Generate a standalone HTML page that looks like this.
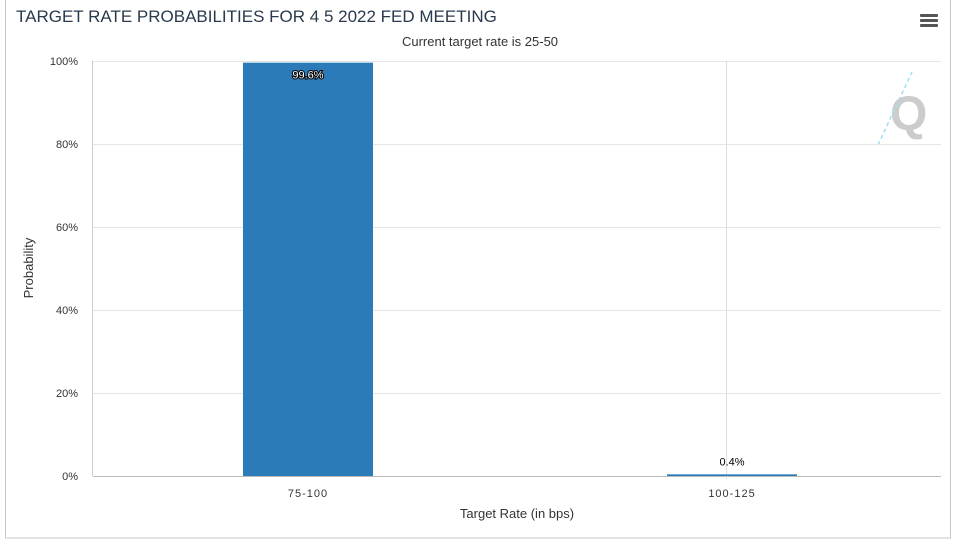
<!DOCTYPE html>
<html><head><meta charset="utf-8"><style>
body{margin:0;background:#fff;width:960px;height:541px;overflow:hidden;font-family:"Liberation Sans",sans-serif}
</style></head><body>
<svg width="960" height="541" style="position:absolute;left:0;top:0">
<rect x="5.5" y="-1" width="945" height="539" fill="#fff" stroke="#c8c8c8"/>
<text x="16" y="22" font-size="17" fill="#2a3a4d">TARGET RATE PROBABILITIES FOR 4 5 2022 FED MEETING</text>
<text x="480" y="46" font-size="13" fill="#333" text-anchor="middle">Current target rate is 25-50</text>
<g fill="#555"><rect x="920" y="14" width="18" height="3" rx="1"/><rect x="920" y="19" width="18" height="3" rx="1"/><rect x="920" y="24" width="18" height="3" rx="1"/></g>
<g><text x="890" y="130" font-size="48" font-weight="bold" fill="#ccc">Q</text>
<line x1="878" y1="145" x2="912" y2="72" stroke="#9fe0f0" stroke-width="1.5" stroke-dasharray="4 3"/></g>
<g id="grid"></g><g id="marks"></g>
<text x="33" y="268" font-size="13" fill="#333" text-anchor="middle" transform="rotate(-90 33 268)">Probability</text>
<text x="517" y="518" font-size="13" fill="#333" text-anchor="middle">Target Rate (in bps)</text>
</svg>
<script>
const categories=["75-100","100-125"];
const values=[99.6,0.4];
const yTicks=[0,20,40,60,80,100];
const L=93,R=941,T=61,B=476,NS="http://www.w3.org/2000/svg";
const y=v=>B-(v/100)*(B-T);
const bw=(R-L)/categories.length;
const xc=i=>L+bw*(i+0.5);
const grid=document.getElementById('grid'),marks=document.getElementById('marks');
function mk(tag,attrs,parent,text){const e=document.createElementNS(NS,tag);for(const k in attrs)e.setAttribute(k,attrs[k]);if(text!==undefined)e.textContent=text;parent.appendChild(e);return e;}
yTicks.forEach(t=>{
 const l=mk('line',{x1:L,x2:R,y1:y(t)+0.5,y2:y(t)+0.5,stroke:t===0?'#bbb':'#e6e6e6'},grid);
 
 
 const tx=mk('text',{x:78,y:y(t)+4,'font-size':11,fill:'#333','text-anchor':'end'},grid,t+'%');
 
 
});
const vl=mk('line',{x1:L-0.5,x2:L-0.5,y1:T,y2:B,stroke:'#ccc'},grid);


const ch=mk('line',{x1:726.5,x2:726.5,y1:T,y2:B+3,stroke:'#ddd'},grid);


categories.forEach((c,i)=>{
 const w=130,x=xc(i)-w/2+3;
 const r=mk('rect',{x:x,y:y(values[i]),width:w,height:B-y(values[i]),fill:'#2b7bb9'},marks);
 
 
 const inside=values[i]>10;
 const lb=mk('text',{x:x+w/2,y:inside?y(values[i])+16:y(values[i])-9,'font-size':11,'text-anchor':'middle',fill:inside?'#fff':'#000',stroke:inside?'#000':'none','stroke-width':inside?2:0,'paint-order':'stroke'},marks,values[i]+'%');
 
 
 const xl=mk('text',{x:x+w/2,y:B+21,'font-size':11,'text-anchor':'middle',fill:'#333','letter-spacing':'1'},marks,c);
 
 
});
</script>
</body></html>
